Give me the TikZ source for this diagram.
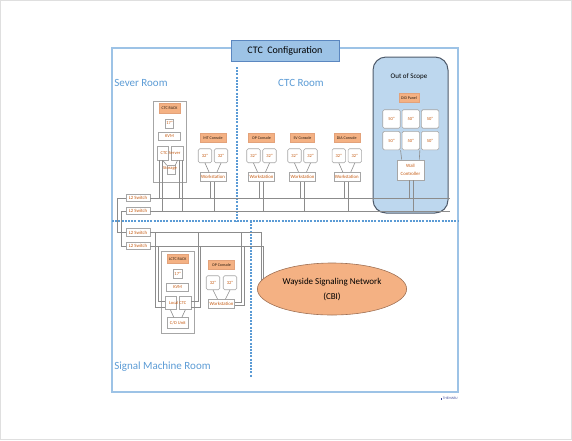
\documentclass[tikz,border=0pt]{standalone}
\usepackage{fontspec}
\setmainfont{Carlito}
\usetikzlibrary{positioning,shapes.geometric}

\definecolor{framebl}{HTML}{9DC3E6}
\definecolor{titleln}{HTML}{5B87C0}
\definecolor{roombl}{HTML}{5B9BD5}
\definecolor{scopebl}{HTML}{BDD7EE}
\definecolor{scopeln}{HTML}{4F5B6B}
\definecolor{tagor}{HTML}{F4B183}
\definecolor{tagln}{HTML}{E3A27A}
\definecolor{unitbr}{HTML}{C55A11}
\definecolor{unitln}{HTML}{A6A6A6}
\definecolor{wiregr}{HTML}{8C8C8C}
\definecolor{markbl}{HTML}{3B4A9A}

\begin{document}
\begin{tikzpicture}[x=1pt,y=-1pt,line width=0.6pt,
  roomframe/.style={draw=framebl,line width=1.5pt},
  roomdiv/.style={color=roombl,draw=roombl,line width=1.2pt,dash pattern=on 2pt off 1.2pt},
  roomtext/.style={text=roombl,font=\fontsize{11}{12}\selectfont,inner sep=0pt},
  titlebox/.style={fill=framebl,draw=titleln,line width=0.8pt,minimum width=108pt,minimum height=21pt,font=\fontsize{10}{12}\selectfont},
  scopebox/.style={fill=scopebl,draw=scopeln,line width=1pt,rounded corners=13pt,minimum width=75pt,minimum height=156pt},
  unitbox/.style={draw=unitln,fill=white,text=unitbr,font=\fontsize{4.5}{5}\selectfont,inner sep=0pt},
  unittext/.style={text=unitbr,font=\fontsize{4.5}{5}\selectfont,inner sep=0pt},
  rackbox/.style={draw=unitln,fill=white,line width=0.8pt},
  tagbox/.style={fill=tagor,draw=tagln,text=black!80!brown,font=\fontsize{4}{4.5}\selectfont,inner sep=0pt,minimum height=9.5pt},
  screenbox/.style={unitbox,rounded corners=1.5pt,minimum width=13.5pt,minimum height=14pt},
  bigscreen/.style={unitbox,rounded corners=1.5pt,minimum width=17.5pt,minimum height=18.5pt},
  wsbox/.style={unitbox,font=\fontsize{4.8}{5}\selectfont,minimum width=26pt,minimum height=9pt},
  switchbox/.style={unitbox,font=\fontsize{4.8}{5}\selectfont,minimum width=24pt,minimum height=7.5pt},
  wire/.style={draw=wiregr,line width=0.6pt},
  cbibox/.style={ellipse,fill=tagor,draw=tagln!70!black,line width=0.6pt,minimum width=149pt,minimum height=52pt,align=center,font=\fontsize{9}{15}\selectfont}]
\useasboundingbox (0,0) rectangle (572,440);
\draw[draw=gray!25] (0.5,0.5) rectangle (571.5,439.5);

% rooms
\draw[roomframe] (112,48) rectangle (458,392);
\node[titlebox] (title) at (285,50.5) {CTC\ \ Configuration};
\draw[roomdiv] (237,67) -- (237,221);
\draw[roomdiv] (112,221) -- (458,221);
\draw[roomdiv] (251,221) -- (251,377);
\node[roomtext,anchor=west] (sever) at (114,83) {Sever Room};
\node[roomtext] (ctcroom) at (301,83) {CTC Room};
\node[roomtext,anchor=west] (smroom) at (114,367) {Signal Machine Room};

% out of scope
\node[scopebox] (oos) at (410.5,135) {};
\node[font=\fontsize{7}{8}\selectfont] (oostext) at (409,77) {Out of Scope};
\node[tagbox,minimum width=20pt] (did) at (409,98) {DID Panel};
\node[bigscreen] (d1) at (391.5,119) {50"};
\node[bigscreen,right=1.2pt of d1] (d2) {50"};
\node[bigscreen,right=1.2pt of d2] (d3) {50"};
\node[bigscreen,below=2.5pt of d1] (d4) {50"};
\node[bigscreen,right=1.2pt of d4] (d5) {50"};
\node[bigscreen,right=1.2pt of d5] (d6) {50"};
\node[unitbox,minimum width=27pt,minimum height=20pt,align=center,font=\fontsize{4.8}{8}\selectfont] (wc) at (410.5,170) {Wall\\Controller};
\draw[wire] (d4.south east) -- ([xshift=5pt]wc.north west);
\draw[wire] (d5.south east) -- ([xshift=-5pt]wc.north east);

% L2 switches and buses
\node[switchbox] (sw1) at (138,198) {L2 Switch};
\node[switchbox] (sw2) at (138,211) {L2 Switch};
\node[switchbox] (sw3) at (138,232.5) {L2 Switch};
\node[switchbox] (sw4) at (138,246) {L2 Switch};
\coordinate (bus1end) at (450,198);
\coordinate (bus2end) at (450,211);
\draw[wire] (sw1.east) -- (bus1end);
\draw[wire] (sw2.east) -- (bus2end);
\draw[wire] (sw1.west) -- ++(-8.5,0) |- (sw3.west);
\draw[wire] (sw2.west) -- ++(-4.5,0) |- (sw4.west);
\draw[wire] ([xshift=-1pt]wc.south) |- (sw1.east);
\draw[wire] ([xshift=3pt]wc.south) |- (sw2.east);

% CTC rack
\node[rackbox,minimum width=33pt,minimum height=81pt] (ctcrack) at (170.2,142.3) {};
\node[tagbox,minimum width=21pt] (ctctag) at (169.5,108.5) {CTC RACK};
\node[unitbox,minimum width=8.4pt,minimum height=9pt,below=5pt of ctctag] (ctcmon) {17"};
\node[unitbox,minimum width=22pt,minimum height=8pt,below=4pt of ctcmon] (ctckvm) {KVM};
\node[unitbox,minimum width=11.5pt,minimum height=14pt] (srvA) at (162.7,153) {};
\node[unitbox,minimum width=12pt,minimum height=14pt,right=2.5pt of srvA] (srvB) {};
\node[unitbox,minimum width=8pt,minimum height=9pt] (stor) at (171,170) {};
\draw[wire] (srvA.south) -- (stor.north west);
\draw[wire] (srvB.south) -- (stor.north east);
\node[unittext] (srvtext) at (170.5,153) {CTC Server};
\node[unittext] (stortext) at (170,168.5) {Storage};
\draw[wire] ([xshift=-3.5pt]srvA.south) |- (sw1.east);
\draw[wire] ([xshift=-0.7pt]srvA.south) |- (sw2.east);
\draw[wire] ([xshift=1.8pt]srvB.south) |- (sw1.east);
\draw[wire] ([xshift=4.7pt]srvB.south) |- (sw2.east);

% CTC room consoles
\node[tagbox,minimum width=26pt] (mt) at (213,138) {MT Console};
\node[wsbox,below=29pt of mt] (mtW) {Workstation};
\node[screenbox,above=9pt of mtW.north,xshift=-8pt] (mtL) {32"};
\node[screenbox,above=9pt of mtW.north,xshift=8pt] (mtR) {32"};
\draw[wire] (mtL.south) -- ([xshift=-4pt]mtW.north);
\draw[wire] (mtR.south) -- ([xshift=4pt]mtW.north);
\draw[wire] ([xshift=-2.5pt]mtW.south) |- (sw1.east);
\draw[wire] ([xshift=1.5pt]mtW.south) |- (sw2.east);

\node[tagbox,minimum width=26pt] (op) at (261.5,138) {OP Console};
\node[wsbox,below=29pt of op] (opW) {Workstation};
\node[screenbox,above=9pt of opW.north,xshift=-8pt] (opL) {32"};
\node[screenbox,above=9pt of opW.north,xshift=8pt] (opR) {32"};
\draw[wire] (opL.south) -- ([xshift=-4pt]opW.north);
\draw[wire] (opR.south) -- ([xshift=4pt]opW.north);
\draw[wire] ([xshift=-2.5pt]opW.south) |- (sw1.east);
\draw[wire] ([xshift=1.5pt]opW.south) |- (sw2.east);

\node[tagbox,minimum width=24pt] (sv) at (302.5,138) {SV Console};
\node[wsbox,below=29pt of sv] (svW) {Workstation};
\node[screenbox,above=9pt of svW.north,xshift=-8pt] (svL) {32"};
\node[screenbox,above=9pt of svW.north,xshift=8pt] (svR) {32"};
\draw[wire] (svL.south) -- ([xshift=-4pt]svW.north);
\draw[wire] (svR.south) -- ([xshift=4pt]svW.north);
\draw[wire] ([xshift=-2.5pt]svW.south) |- (sw1.east);
\draw[wire] ([xshift=1.5pt]svW.south) |- (sw2.east);

\node[tagbox,minimum width=26pt] (dia) at (346.8,138) {DIA Console};
\node[wsbox,below=29pt of dia] (diaW) {Workstation};
\node[screenbox,above=9pt of diaW.north,xshift=-8pt] (diaL) {32"};
\node[screenbox,above=9pt of diaW.north,xshift=8pt] (diaR) {32"};
\draw[wire] (diaL.south) -- ([xshift=-4pt]diaW.north);
\draw[wire] (diaR.south) -- ([xshift=4pt]diaW.north);
\draw[wire] ([xshift=-2.5pt]diaW.south) |- (sw1.east);
\draw[wire] ([xshift=1.5pt]diaW.south) |- (sw2.east);

% LCTC rack
\node[rackbox,minimum width=33pt,minimum height=81.6pt] (lctcrack) at (177.5,292.5) {};
\node[tagbox,minimum width=21pt] (lctctag) at (177.7,259) {LCTC RACK};
\node[unitbox,minimum width=8.4pt,minimum height=9pt,below=4.7pt of lctctag] (lctcmon) {17"};
\node[unitbox,minimum width=22pt,minimum height=8pt,below=4.5pt of lctcmon] (lctckvm) {KVM};
\node[unitbox,minimum width=11pt,minimum height=13.3pt] (lcA) at (170.5,303) {};
\node[unitbox,minimum width=11.4pt,minimum height=13.3pt,right=3pt of lcA] (lcB) {};
\node[unitbox,minimum width=21.6pt,minimum height=10.6pt] (cdu) at (177.8,323) {C/D Unit};
\draw[wire] (lcA.south) -- ([xshift=-4pt]cdu.north);
\draw[wire] (lcB.south) -- ([xshift=4pt]cdu.north);
\node[unittext] (lctext) at (177.7,303) {Local CTC};
\draw[wire] ([yshift=-4pt]lcA.west) -- ++(-9.2,0) |- (sw3.east);
\draw[wire] ([yshift=2pt]lcA.west) -- ++(-6.7,0) |- (sw4.east);
\draw[wire] ([yshift=2pt]lcB.east) -- ++(6.6,0) |- (sw3.east);
\draw[wire] ([yshift=-4pt]lcB.east) -- ++(9.2,0) |- (sw4.east);

% signal machine room console
\node[tagbox,minimum width=26pt] (op2) at (221.5,265) {OP Console};
\node[wsbox,below=29pt of op2] (op2W) {Workstation};
\node[screenbox,above=9pt of op2W.north,xshift=-8.5pt] (op2L) {32"};
\node[screenbox,above=9pt of op2W.north,xshift=8.5pt] (op2R) {32"};
\draw[wire] (op2L.south) -- ([xshift=-4pt]op2W.north);
\draw[wire] (op2R.south) -- ([xshift=4pt]op2W.north);
\draw[wire] ([yshift=1.5pt]op2W.east) -- ++(6.3,0) |- (sw3.east);
\draw[wire] ([yshift=-1.5pt]op2W.east) -- ++(9.2,0) |- (sw4.east);

% wayside network
\coordinate (cbi1) at (261,284);
\coordinate (cbi2) at (263.5,282);
\draw[wire] (sw3.east) -| (cbi1);
\draw[wire] (sw4.east) -| (cbi2);
\node[cbibox] (cbi) at (332,289) {Wayside Signaling Network\\(CBI)};

\node[font=\fontsize{3.5}{4}\selectfont,text=markbl,anchor=east,inner sep=0pt] (maru) at (458,398.5) {\rule{1.2pt}{1.2pt}\,THEMARU};
\end{tikzpicture}
\end{document}
